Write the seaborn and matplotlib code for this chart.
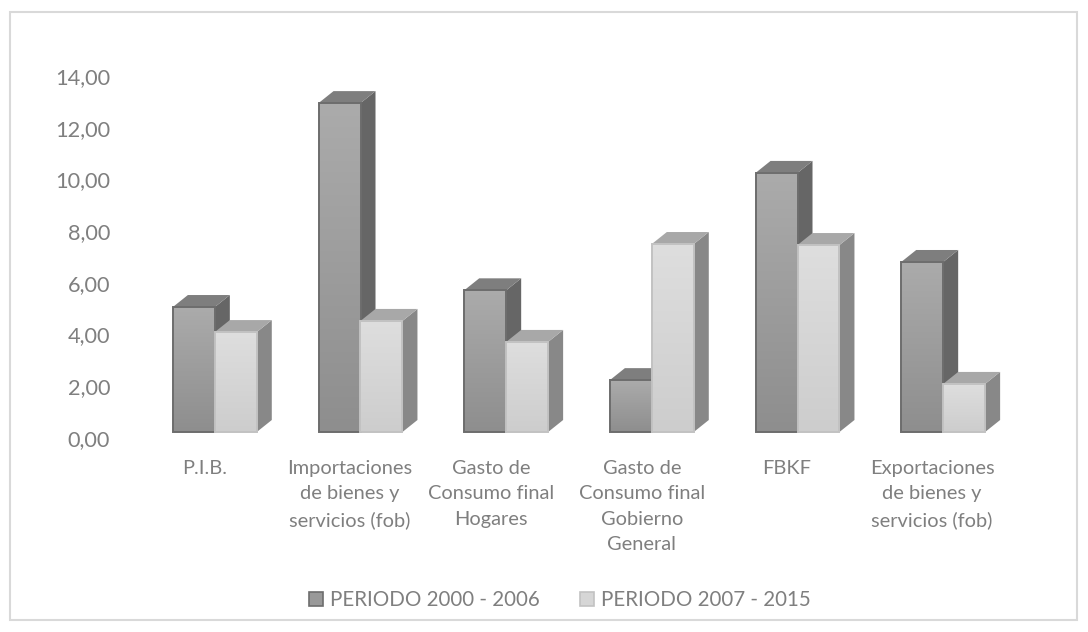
import numpy as np
import pandas as pd
import seaborn as sns
import matplotlib.pyplot as plt
from matplotlib.colors import LinearSegmentedColormap
from matplotlib.patches import Rectangle
from matplotlib.transforms import ScaledTranslation

categories = [
    'P.I.B.',
    'Importaciones\nde bienes y\nservicios (fob)',
    'Gasto de\nConsumo final\nHogares',
    'Gasto de\nConsumo final\nGobierno\nGeneral',
    'FBKF',
    'Exportaciones\nde bienes y\nservicios (fob)',
]
series_names = ['PERIODO 2000 - 2006', 'PERIODO 2007 - 2015']
periodo_2000_2006 = [4.94, 13.00, 5.60, 2.05, 10.24, 6.72]
periodo_2007_2015 = [3.95, 4.39, 3.56, 7.43, 7.39, 1.90]
tick_values = [0, 2, 4, 6, 8, 10, 12, 14]
label_shift_px = [-10, -11, -15, -10, -11, -11]

W, H = 1088, 632
GREY = '#7f7f7f'
DEPTH_X = 0.103
DEPTH_Y = 0.474

styles = [
    {'top': '#ababab', 'bottom': '#8e8e8e', 'edge': '#6d6d6d', 'side': '#666666', 'cap': '#7e7e7e', 'z': 2},
    {'top': '#dedede', 'bottom': '#cdcdcd', 'edge': '#c2c2c2', 'side': '#888888', 'cap': '#a8a8a8', 'z': 4},
]

sns.set_theme(style='white')
plt.rcParams['font.family'] = ['Lato', 'DejaVu Sans']

df = pd.DataFrame({
    'categoria': categories * 2,
    'periodo': [series_names[0]] * 6 + [series_names[1]] * 6,
    'valor': periodo_2000_2006 + periodo_2007_2015,
})

fig = plt.figure(figsize=(W / 100, H / 100), dpi=100, facecolor='white')
fig.patches.append(Rectangle((10 / W, 1 - 620 / H), 1067 / W, 608 / H, transform=fig.transFigure,
                             facecolor='white', edgecolor='#d9d9d9', linewidth=1.5, zorder=-1))

# value labels sit on the back wall, so their scale differs from the front faces
ax_labels = fig.add_axes([142 / W, 1 - 445 / H, 874 / W, (445 - 52.5) / H])
ax_labels.patch.set_alpha(0)
ax_labels.set_ylim(-7 / 25.857, (438 - 52.5) / 25.857)
ax_labels.set_xticks([])
ax_labels.set_yticks(tick_values)
ax_labels.set_yticklabels([f'{v:.2f}'.replace('.', ',') for v in tick_values], fontsize=15.7, color=GREY)
ax_labels.tick_params(axis='y', length=0, pad=23)
sns.despine(ax=ax_labels, left=True, bottom=True)

ax = fig.add_axes([142 / W, 1 - 432 / H, 874 / W, 379.5 / H])
ax.patch.set_alpha(0)
sns.barplot(data=df, x='categoria', y='valor', hue='periodo', order=categories,
            palette=['#999999', '#d6d6d6'], saturation=1, width=0.576, gap=0, ax=ax)

# front faces get a gradient, side and top faces are built from each bar
for container, st in zip(ax.containers, styles):
    cmap = LinearSegmentedColormap.from_list('face', [st['top'], st['bottom']])
    for bar in container:
        x0, w, h = bar.get_x(), bar.get_width(), bar.get_height()
        x1 = x0 + w
        ax.imshow(np.linspace(0, 1, 128).reshape(-1, 1), cmap=cmap, aspect='auto',
                  extent=[x0, x1, 0, h], zorder=st['z'], clip_on=False)
        ax.fill([x1, x1 + DEPTH_X, x1 + DEPTH_X, x1], [0, DEPTH_Y, h + DEPTH_Y, h],
                color=st['side'], lw=0, zorder=st['z'] - 0.5, clip_on=False)
        ax.fill([x0, x0 + DEPTH_X, x1 + DEPTH_X, x1], [h, h + DEPTH_Y, h + DEPTH_Y, h],
                color=st['cap'], lw=0, zorder=st['z'] - 0.5, clip_on=False)
        bar.set_facecolor('none')
        bar.set_edgecolor(st['edge'])
        bar.set_linewidth(1.4)
        bar.set_zorder(st['z'] + 0.5)
        bar.set_clip_on(False)

ax.set_xlim(-0.5, 5.5)
ax.set_ylim(0, 15)
ax.set_xlabel('')
ax.set_ylabel('')
ax.set_yticks([])
ax.tick_params(axis='x', length=0, pad=20)
ax.set_xticks(range(len(categories)))
ax.set_xticklabels(categories, fontsize=14.4, color=GREY, linespacing=1.6, va='top')
for label, shift in zip(ax.get_xticklabels(), label_shift_px):
    label.set_transform(label.get_transform() + ScaledTranslation(shift / 100, 0, fig.dpi_scale_trans))
sns.despine(ax=ax, left=True, bottom=True)

legend = ax.legend(loc='center', bbox_to_anchor=(560 / W, 1 - 600 / H), bbox_transform=fig.transFigure,
                   ncol=2, frameon=False, fontsize=14.8, handlelength=0.68, handleheight=0.68,
                   handletextpad=0.34, columnspacing=1.95, labelcolor=GREY)
for handle, st in zip(legend.get_patches(), styles):
    handle.set_edgecolor(st['edge'])
    handle.set_linewidth(1.2)

fig.savefig('out.png', dpi=100)
